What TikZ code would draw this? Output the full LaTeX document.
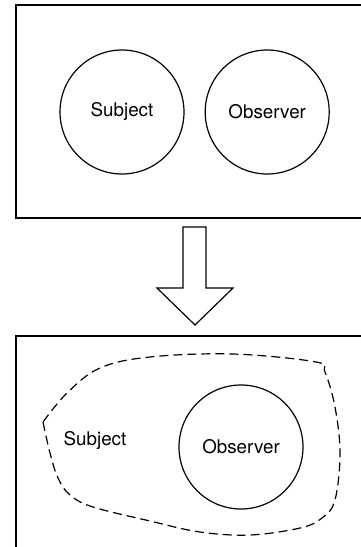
\documentclass[tikz,border=0pt]{standalone}
\usepackage{fontspec}
\setmainfont{TeX Gyre Heros}
\usetikzlibrary{positioning}

\begin{document}
\begin{tikzpicture}[x=0.5pt,y=-0.5pt,node distance=10pt,
   frame/.style={draw,line width=0.7pt},
   actor/.style={circle,draw,line width=0.6pt,minimum size=62pt,inner sep=0pt,
     font=\fontsize{9.4}{11}\selectfont},
   label text/.style={font=\fontsize{9.4}{11}\selectfont},
   blob/.style={draw,line width=0.6pt,dash pattern=on 4.5pt off 2.5pt}]

  \useasboundingbox (0,0) rectangle (360,547);

  % before
  \draw[frame] (16,5) rectangle (380,218);
  \node[actor] (subj) at (122,112) {Subject};
  \node[actor] (obs) [right=10pt of subj] {Observer};

  % arrow
  \coordinate (tip) at (195,325);
  \draw[line width=0.6pt] (183,227) -- (206,227) -- (206,288) -- (233,288) -- (tip)
     -- (157,288) -- (183,288) -- cycle;

  % after
  \draw[frame] (16,336) rectangle (380,570);
  \node[label text] (subj2) at (95,441) {Subject};
  \node[actor] (obs2) at (241,447) {Observer};
  \draw[blob] plot[smooth,tension=0.6] coordinates {(43,422) (50,453) (58,478) (70,495)
     (93,507) (150,521) (200,532) (250,535) (300,528) (322,518) (335,500) (340,453)
     (335,407) (325,372) (316,362) (233,354) (150,357) (100,368) (67,393) (43,422)};
\end{tikzpicture}
\end{document}
